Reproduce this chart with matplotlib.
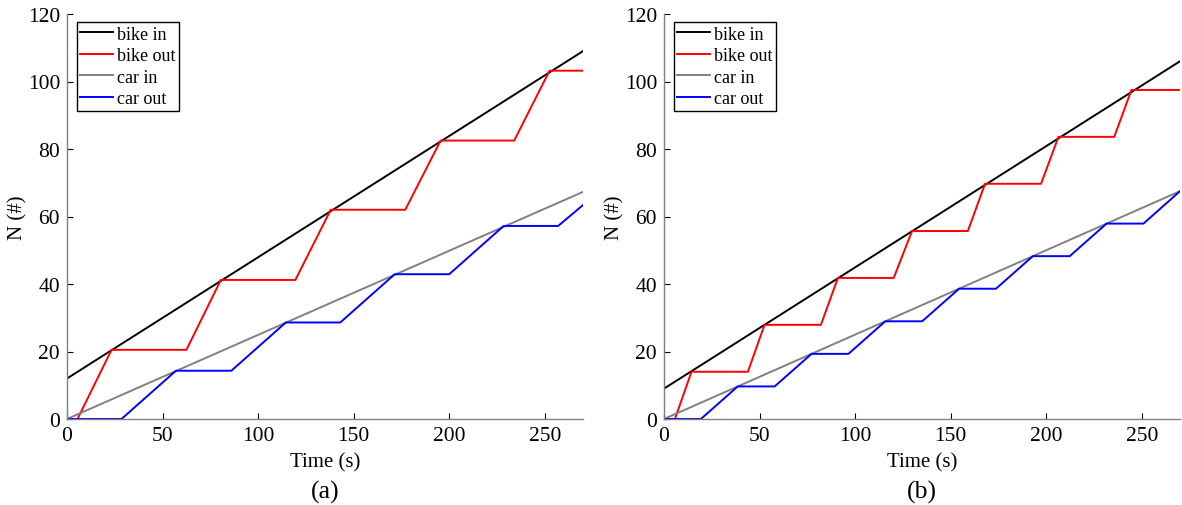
import matplotlib
matplotlib.use("Agg")
import matplotlib.pyplot as plt

plt.rcParams["font.family"] = ["Liberation Serif", "DejaVu Serif"]
plt.rcParams["font.size"] = 14

# ---------- data ----------
T_IN = [0, 270]

# panel (a)
bike_in_a = [12, 109]
car_in_a = [0, 67.3]
bike_out_t_a = [0, 5.5, 23.3, 62.5, 80.5, 119.5, 138, 177, 195.5, 234, 252.5, 270]
bike_out_a = [0, 0, 20.5, 20.5, 41.2, 41.2, 62.0, 62.0, 82.5, 82.5, 103.2, 103.2]
car_out_t_a = [0, 28.5, 57, 86, 114.5, 143, 171.5, 200, 228.5, 257, 270]
car_out_a = [0, 0, 14.3, 14.3, 28.6, 28.6, 42.9, 42.9, 57.2, 57.2, 63.4]

# panel (b)
bike_in_b = [9, 106]
car_in_b = [0, 67.5]
bike_out_t_b = [0, 5.7, 14.4, 43.9, 52.6, 82.1, 91, 120.2, 129.8, 159, 168,
                197.3, 206.4, 235.6, 244.6, 270]
bike_out_b = [0, 0, 14.0, 14.0, 27.9, 27.9, 41.8, 41.8, 55.7, 55.7, 69.7,
              69.7, 83.6, 83.6, 97.5, 97.5]
car_out_t_b = [0, 19.3, 38.6, 57.9, 77.2, 96.5, 115.8, 135.1, 154.4, 173.7,
               193, 212.3, 231.6, 250.9, 270]
car_out_b = [0, 0, 9.65, 9.65, 19.3, 19.3, 28.95, 28.95, 38.6, 38.6, 48.25,
             48.25, 57.9, 57.9, 67.5]

panels = [
    ("(a)", bike_in_a, bike_out_t_a, bike_out_a, car_in_a, car_out_t_a, car_out_a),
    ("(b)", bike_in_b, bike_out_t_b, bike_out_b, car_in_b, car_out_t_b, car_out_b),
]

fig = plt.figure(figsize=(11.82, 5.06), dpi=100)
lefts = [67 / 1182, 664 / 1182]
W, H, B = 516 / 1182, 405 / 506, 86 / 506

for left, (tag, bi, bot, bo, ci, cot, co) in zip(lefts, panels):
    ax = fig.add_axes([left, B, W, H])
    ax.plot(T_IN, bi, color="black", lw=1.4, label="bike in")
    ax.plot(bot, bo, color="red", lw=1.4, label="bike out")
    ax.plot(T_IN, ci, color="#808080", lw=1.4, label="car in")
    ax.plot(cot, co, color="blue", lw=1.4, label="car out")
    ax.set_xlim(0, 270)
    ax.set_ylim(0, 120)
    ax.set_xticks([0, 50, 100, 150, 200, 250])
    ax.set_yticks(range(0, 121, 20))
    for s in ["top", "right"]:
        ax.spines[s].set_visible(False)
    for s in ["left", "bottom"]:
        ax.spines[s].set_color("#808080")
        ax.spines[s].set_linewidth(1.0)
    ax.tick_params(axis="both", direction="in", length=4, width=0.8,
                   labelsize=15.5)
    ax.tick_params(axis="x", pad=5)
    ax.tick_params(axis="y", pad=5)
    ax.set_xlabel("Time (s)", fontsize=15)
    ax.xaxis.set_label_coords(0.5, -0.106)
    ax.xaxis.label.set_va("center")
    ax.set_ylabel("N (#)", fontsize=15)
    ax.yaxis.set_label_coords(-0.095, 0.5)
    ax.yaxis.label.set_va("center")
    ax.text(0.5, -0.18, tag, transform=ax.transAxes, ha="center", va="center",
            fontsize=18.5)
    leg = ax.legend(loc="upper left", bbox_to_anchor=(0.019, 0.98),
                    borderaxespad=0, fancybox=False, framealpha=1,
                    edgecolor="black", handlelength=1.78, handletextpad=0.22,
                    labelspacing=0.25, borderpad=0.2, fontsize=13)
    leg.get_frame().set_linewidth(1.0)

fig.savefig("out.png", dpi=100)
